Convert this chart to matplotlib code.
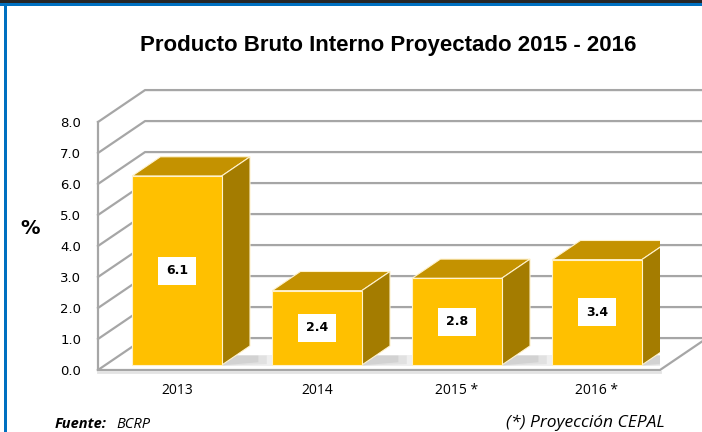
import numpy as np
import matplotlib.pyplot as plt
from matplotlib.patches import Polygon, Rectangle

# data
categories = ['2013', '2014', '2015 *', '2016 *']
pbi = [6.1, 2.4, 2.8, 3.4]
y_ticks = [0, 1, 2, 3, 4, 5, 6, 7, 8]

# pseudo-3D settings (data units)
DX, DY = 0.336, 1.03          # full depth of the box
BAR_W = 0.64
BAR_Z0 = 0.155                # bar front position (fraction of depth)
BAR_DEPTH = 0.6               # bar depth (fraction of depth)
FRONT = '#FFC000'
TOP = '#C49200'
SIDE = '#A47C00'
GRID = '#A6A6A6'

fig = plt.figure(figsize=(7.02, 4.32), dpi=100)
ax = fig.add_axes([98 / 702, 1 - 370 / 432, (660 - 98) / 702, (370 - 122) / 432])

x = np.arange(len(categories))
xmin, xmax = -0.564, 3.45
ax.set_xlim(xmin, xmax)
ax.set_ylim(0, 8)

# back wall gridlines + left wall diagonals
for v in y_ticks:
    ax.plot([xmin, xmin + DX, xmax + DX + 1], [v, v + DY, v + DY],
            color=GRID, lw=1.6, clip_on=False, zorder=1)
# left wall front edge, floor edges
ax.plot([xmin, xmin], [0, 8], color=GRID, lw=1.6, clip_on=False, zorder=1)
ax.plot([xmin, xmax, xmax + DX], [0, 0, DY], color=GRID, lw=1.6, clip_on=False, zorder=1)
ax.plot([xmin, xmax], [-0.07, -0.07], color='#E3E3E3', lw=2, clip_on=False, zorder=1)

bz = BAR_Z0 * DY
ddx, ddy = BAR_DEPTH * DX, BAR_DEPTH * DY
for xi, v in zip(x, pbi):
    l, r = xi - BAR_W / 2, xi + BAR_W / 2
    top = bz + v
    # soft floor shadow, right of the bar
    for k, a in enumerate([0.12, 0.12, 0.15]):
        g = 0.06 * (3 - k)
        ax.add_patch(Polygon([(r - 0.05, bz - 0.03), (r + ddx + g, bz + 0.15 - g),
                              (r + ddx + g, bz + ddy * 0.5), (r, bz + ddy * 0.5)],
                             closed=True, facecolor='#808080', edgecolor='none',
                             alpha=a, zorder=2))
    ax.bar(xi, v, width=BAR_W, bottom=bz, color=FRONT, edgecolor='#FFF2CC',
           linewidth=0.8, zorder=4)
    ax.add_patch(Polygon([(l, top), (r, top), (r + ddx, top + ddy), (l + ddx, top + ddy)],
                         closed=True, facecolor=TOP, edgecolor='#FFF2CC', lw=0.8, zorder=3))
    ax.add_patch(Polygon([(r, bz), (r + ddx, bz + ddy), (r + ddx, top + ddy), (r, top)],
                         closed=True, facecolor=SIDE, edgecolor='#FFF2CC', lw=0.8, zorder=3))
    ax.text(xi, bz + v / 2, f'{v:.1f}', ha='center', va='center', fontsize=9,
            fontweight='bold', family='DejaVu Sans', zorder=6,
            bbox=dict(boxstyle='square,pad=0.6', facecolor='white', edgecolor='none'))

ax.set_xticks(x)
ax.set_xticklabels(categories, fontsize=10, family='Open Sans')
ax.set_yticks(y_ticks)
ax.set_yticklabels([f'{t:.1f}' for t in y_ticks], fontsize=9.5, family='DejaVu Sans')
ax.tick_params(axis='both', length=0)
ax.tick_params(axis='x', pad=9)
ax.tick_params(axis='y', pad=12)
for s in ax.spines.values():
    s.set_visible(False)
ax.patch.set_visible(False)

fig.text(388 / 702, 1 - 45 / 432, 'Producto Bruto Interno Proyectado 2015 - 2016',
         ha='center', va='center', fontsize=16, fontweight='bold', family='Liberation Sans')
fig.text(30 / 702, 1 - 228 / 432, '%', ha='center', va='center', fontsize=14,
         fontweight='bold', family='DejaVu Sans')
fig.text(55 / 702, 1 - 424 / 432, 'Fuente:', ha='left', va='center', fontsize=10.5,
         fontweight='bold', style='italic', family='Open Sans')
fig.text(116 / 702, 1 - 424 / 432, 'BCRP', ha='left', va='center', fontsize=10.5,
         style='italic', family='Open Sans')
fig.text(665 / 702, 1 - 423 / 432, '(*) Proyección CEPAL', ha='right', va='center',
         fontsize=12.5, style='italic', family='Open Sans')

# frame lines at top / left
fig.add_artist(Rectangle((0, 1 - 4 / 432), 1, 4 / 432, transform=fig.transFigure,
                         facecolor='#262626', edgecolor='none'))
fig.add_artist(Rectangle((0, 1 - 6 / 432), 1, 2.5 / 432, transform=fig.transFigure,
                         facecolor='#0070C0', edgecolor='none'))
fig.add_artist(Rectangle((4 / 702, 0), 2.5 / 702, 1 - 4 / 432, transform=fig.transFigure,
                         facecolor='#0070C0', edgecolor='none'))

fig.savefig('out.png', dpi=100, facecolor='white')
